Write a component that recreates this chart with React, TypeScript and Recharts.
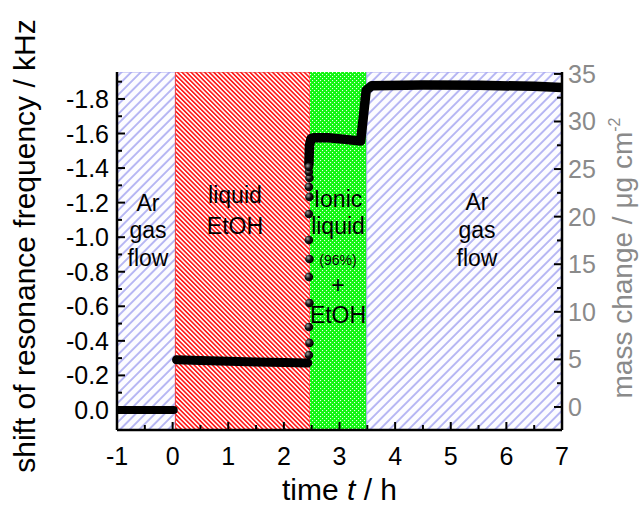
import React from 'react';
import { ComposedChart, Line, Scatter, XAxis, YAxis, ReferenceArea, ReferenceDot, Label } from 'recharts';

const FONT = '"Liberation Sans", Arial, Helvetica, sans-serif';

// ---- tick values ----
const timeMajorTicks = [-1, 0, 1, 2, 3, 4, 5, 6, 7];
const timeMinorTicks = [-0.5, 0.5, 1.5, 2.5, 3.5, 4.5, 5.5, 6.5];
const shiftMajorTicks = [0, -0.2, -0.4, -0.6, -0.8, -1.0, -1.2, -1.4, -1.6, -1.8];
const shiftMinorTicks = [-0.1, -0.3, -0.5, -0.7, -0.9, -1.1, -1.3, -1.5, -1.7, -1.9];
const massMajorTicks = [0, 5, 10, 15, 20, 25, 30, 35];
const massMinorTicks = [2.5, 7.5, 12.5, 17.5, 22.5, 27.5, 32.5];

// ---- phases (time boundaries, h) ----
const phaseStarts = [-1, 0.05, 2.47, 3.49];
const phaseEnds = [0.05, 2.47, 3.49, 7];
const phaseKinds = ['ar', 'etoh', 'il', 'ar'];

// ---- data: frequency shift (kHz) vs time (h) ----
const baseTimes = [-1, -0.5, 0, 0.02];
const baseShifts = [0, 0, 0, 0];

const etohTimes = [0.07, 0.5, 1.0, 1.5, 2.0, 2.43];
const etohShifts = [-0.29, -0.286, -0.282, -0.278, -0.275, -0.272];

const stepTimes = [2.45, 2.46, 2.45, 2.46, 2.45, 2.46, 2.45, 2.45, 2.46, 2.45, 2.46, 2.45, 2.45];
const stepShifts = [-0.318, -0.388, -0.48, -0.619, -0.77, -0.874, -0.984, -1.134, -1.233, -1.291, -1.343, -1.377, -1.406];

const ilTimes = [2.45, 2.46, 2.49, 2.55, 2.8, 3.1, 3.38, 3.43, 3.48, 3.58, 4.5, 5.5, 6.5, 7.0];
const ilShifts = [-1.42, -1.53, -1.572, -1.576, -1.575, -1.566, -1.556, -1.7, -1.85, -1.877, -1.881, -1.879, -1.873, -1.866];

// ---- in-plot annotations ----
const noteTimes = [-0.443, 1.121, 2.973, 5.472];
const noteShifts = [-1.152, -1.198, -1.175, -1.157];
const noteLines = [
  ['Ar', 'gas', 'flow'],
  ['liquid', 'EtOH'],
  ['Ionic', 'liquid', '(96%)', '+', 'EtOH'],
  ['Ar', 'gas', 'flow'],
];
const noteOffsets = [
  [0, 27, 55],
  [0, 31],
  [0, 27, 58, 86, 116],
  [0, 28, 56],
];
const noteSizes = [
  [23, 23, 23],
  [23, 23],
  [23, 23, 14, 23, 23],
  [23, 23, 23],
];

const toPts = (ts: number[], vs: number[]) => ts.map((t, i) => ({ t, v: vs[i] }));
const baseData = toPts(baseTimes, baseShifts);
const etohData = toPts(etohTimes, etohShifts);
const stepData = toPts(stepTimes, stepShifts);
const ilData = toPts(ilTimes, ilShifts);

const phaseFill: Record<string, string> = {
  ar: 'url(#hatchBlue)',
  etoh: 'url(#hatchRed)',
  il: 'url(#dotGreen)',
};
const phaseStroke: Record<string, string> = {
  ar: '#a8a8f2',
  etoh: '#f04040',
  il: 'none',
};

const isIn = (arr: number[], v: number) => arr.some((m) => Math.abs(m - v) < 1e-9);
const sortNum = (a: number[]) => [...a].sort((x, y) => x - y);

const GREY = '#8a8a8a';
const TICK_FS = 25;
const TITLE_FS = 30;

const BottomTick = (props: any) => {
  const { x, y, payload } = props;
  const v = payload.value;
  const major = isIn(timeMajorTicks, v);
  return (
    <g>
      <line x1={x} x2={x} y1={y} y2={y - (major ? 8 : 5)} stroke="#000" strokeWidth={2} />
      {major && (
        <text x={x} y={y + 35} textAnchor="middle" fontSize={TICK_FS} fontFamily={FONT} fill="#000">
          {String(v)}
        </text>
      )}
    </g>
  );
};

const TopTick = (props: any) => {
  const { x, y, payload } = props;
  const v = payload.value;
  const major = isIn(timeMajorTicks, v);
  return <line x1={x} x2={x} y1={y} y2={y + (major ? 8 : 5)} stroke="#000" strokeWidth={2} />;
};

const LeftTick = (props: any) => {
  const { x, y, payload } = props;
  const v = payload.value;
  const major = isIn(shiftMajorTicks, v);
  return (
    <g>
      <line x1={x} x2={x + (major ? 8 : 5)} y1={y} y2={y} stroke="#000" strokeWidth={2} />
      {major && (
        <text x={x - 8} y={y} dy="0.36em" textAnchor="end" fontSize={TICK_FS} fontFamily={FONT} fill="#000">
          {v.toFixed(1)}
        </text>
      )}
    </g>
  );
};

const RightTick = (props: any) => {
  const { x, y, payload } = props;
  const v = payload.value;
  const major = isIn(massMajorTicks, v);
  return (
    <g>
      <line x1={x} x2={x - (major ? 8 : 5)} y1={y} y2={y} stroke="#000" strokeWidth={2} />
      {major && (
        <text x={x + 6} y={y} dy="0.36em" textAnchor="start" fontSize={TICK_FS} fontFamily={FONT} fill={GREY}>
          {String(v)}
        </text>
      )}
    </g>
  );
};

const Ball = (props: any) => <circle cx={props.cx} cy={props.cy} r={4.3} fill="url(#ball)" />;

const makeNote = (i: number) => (p: any) => (
  <text x={p.cx} y={p.cy} textAnchor="middle" fontFamily={FONT} fill="#000">
    {noteLines[i].map((s, j) => (
      <tspan key={j} x={p.cx} y={p.cy + noteOffsets[i][j]} fontSize={noteSizes[i][j]}>
        {s}
      </tspan>
    ))}
  </text>
);

const BottomTitle = (props: any) => {
  const vb = props.viewBox;
  return (
    <text x={vb.x + vb.width / 2} y={vb.y + 70} textAnchor="middle" fontSize={TITLE_FS} fontFamily={FONT} fill="#000">
      time <tspan fontStyle="italic">t</tspan> / h
    </text>
  );
};

const LeftTitle = (props: any) => {
  const vb = props.viewBox;
  const cx = vb.x + 35;
  const cy = vb.y + vb.height / 2 - 5;
  return (
    <text x={cx} y={cy} transform={`rotate(-90, ${cx}, ${cy})`} textAnchor="middle" fontSize={TITLE_FS} fontFamily={FONT} fill="#000">
      shift of resonance frequency / kHz
    </text>
  );
};

const RightTitle = (props: any) => {
  const vb = props.viewBox;
  const cx = vb.x + 70;
  const cy = vb.y + 186;
  return (
    <text x={cx} y={cy} transform={`rotate(-90, ${cx}, ${cy})`} textAnchor="middle" fontSize={28} fontFamily={FONT} fill={GREY}>
      mass change / μg cm<tspan fontSize={16} dy={-12}>-2</tspan>
    </text>
  );
};

export default function App() {
  return (
    <div style={{ position: 'absolute', left: 0, top: 0, width: 641, height: 506, background: '#fff' }}>
      <ComposedChart width={641} height={506} margin={{ top: 72, right: 0, bottom: 0, left: 0 }}>
        <defs>
          <pattern id="hatchBlue" patternUnits="userSpaceOnUse" width={6.8} height={6.8} patternTransform="rotate(45)">
            <rect width={6.8} height={6.8} fill="#fcfcff" />
            <line x1={1} y1={0} x2={1} y2={6.8} stroke="#a2a2f0" strokeWidth={1.5} />
          </pattern>
          <pattern id="hatchRed" patternUnits="userSpaceOnUse" width={3.2} height={3.2} patternTransform="rotate(-45)">
            <rect width={3.2} height={3.2} fill="#ffffff" />
            <line x1={0.8} y1={0} x2={0.8} y2={3.2} stroke="#ff1a1a" strokeWidth={1.7} />
          </pattern>
          <pattern id="dotGreen" patternUnits="userSpaceOnUse" width={4} height={4}>
            <rect width={4} height={4} fill="#10f510" />
            <rect x={0} y={0} width={1.1} height={1.1} fill="#e8ffe8" />
            <rect x={2} y={2} width={1.1} height={1.1} fill="#e8ffe8" />
          </pattern>
          <radialGradient id="ball" cx="0.35" cy="0.35" r="0.7">
            <stop offset="0" stopColor="#a0a0a0" />
            <stop offset="0.5" stopColor="#111" />
            <stop offset="1" stopColor="#000" />
          </radialGradient>
        </defs>

        {phaseStarts.map((s, i) => (
          <ReferenceArea
            key={'ph' + i}
            xAxisId="bottom"
            yAxisId="left"
            x1={s}
            x2={phaseEnds[i]}
            fill={phaseFill[phaseKinds[i]]}
            fillOpacity={1}
            stroke={phaseStroke[phaseKinds[i]]}
            strokeWidth={1}
            ifOverflow="hidden"
          />
        ))}

        <XAxis
          xAxisId="bottom"
          dataKey="t"
          type="number"
          domain={[-1, 7]}
          allowDataOverflow
          ticks={sortNum([...timeMajorTicks, ...timeMinorTicks])}
          interval={0}
          tick={<BottomTick />}
          tickSize={0}
          tickMargin={0}
          tickLine={false}
          axisLine={{ stroke: '#000', strokeWidth: 2.5 }}
          height={76}
          label={<Label content={<BottomTitle />} />}
        />
        <XAxis
          xAxisId="top"
          orientation="top"
          type="number"
          domain={[-1, 7]}
          allowDataOverflow
          ticks={sortNum([...timeMajorTicks, ...timeMinorTicks])}
          interval={0}
          tick={<TopTick />}
          tickSize={0}
          tickMargin={0}
          tickLine={false}
          axisLine={{ stroke: '#000', strokeWidth: 2.5 }}
          height={0}
        />
        <YAxis
          yAxisId="left"
          type="number"
          reversed
          domain={[-1.956, 0.116]}
          allowDataOverflow
          ticks={sortNum([...shiftMajorTicks, ...shiftMinorTicks])}
          interval={0}
          tick={<LeftTick />}
          tickSize={0}
          tickMargin={0}
          tickLine={false}
          axisLine={{ stroke: '#000', strokeWidth: 2.5 }}
          width={117}
          label={<Label content={<LeftTitle />} />}
        />
        <YAxis
          yAxisId="right"
          orientation="right"
          type="number"
          domain={[-2.42, 35.2]}
          allowDataOverflow
          ticks={sortNum([...massMajorTicks, ...massMinorTicks])}
          interval={0}
          tick={<RightTick />}
          tickSize={0}
          tickMargin={0}
          tickLine={false}
          axisLine={{ stroke: '#000', strokeWidth: 2.5 }}
          width={79}
          label={<Label content={<RightTitle />} />}
        />

        <Line xAxisId="bottom" yAxisId="left" data={baseData} dataKey="v" type="linear" stroke="#000" strokeWidth={8} strokeLinecap="round" strokeLinejoin="round" dot={false} activeDot={false} isAnimationActive={false} />
        <Line xAxisId="bottom" yAxisId="left" data={etohData} dataKey="v" type="linear" stroke="#000" strokeWidth={9} strokeLinecap="round" strokeLinejoin="round" dot={false} activeDot={false} isAnimationActive={false} />
        <Line xAxisId="bottom" yAxisId="left" data={ilData} dataKey="v" type="linear" stroke="#000" strokeWidth={9.5} strokeLinecap="round" strokeLinejoin="round" dot={false} activeDot={false} isAnimationActive={false} />
        <Scatter xAxisId="bottom" yAxisId="left" data={stepData} dataKey="v" shape={<Ball />} isAnimationActive={false} />

        {noteTimes.map((t, i) => (
          <ReferenceDot key={'n' + i} xAxisId="bottom" yAxisId="left" x={t} y={noteShifts[i]} r={0} shape={makeNote(i)} />
        ))}
      </ComposedChart>
    </div>
  );
}
